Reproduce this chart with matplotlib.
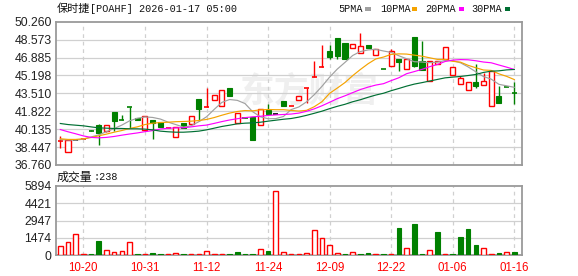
import numpy as np
import matplotlib
matplotlib.use('Agg')
import matplotlib.pyplot as plt
from matplotlib.patches import Rectangle

W, H = 578, 276

# OHLC diario
opens  = [39.02, 38.01, 39.07, 39.19, 40.02, 40.57, 39.95, 41.76, 41.05, 42.24,
          41.20, 40.10, 41.04, 40.79, 40.25, 39.42, 40.73, 40.64, 43.01, 42.22,
          42.85, 42.29, 44.04, 40.70, 41.24, 41.26, 40.54, 41.98, 41.54, 42.79,
          42.34, 42.89, 44.00, 45.03, 45.97, 47.51, 48.73, 48.26, 47.76, 47.29,
          48.04, 47.10, 45.83, 46.04, 46.73, 45.79, 48.82, 46.55, 44.70, 46.28,
          46.72, 45.24, 44.36, 43.80, 44.55, 44.27, 42.32, 43.26, 44.11, 43.58]
highs  = [39.50, 39.10, 39.07, 39.21, 40.02, 40.62, 40.54, 41.76, 41.48, 42.24,
          41.20, 41.39, 41.04, 40.79, 40.27, 40.35, 40.73, 41.39, 43.01, 44.01,
          43.35, 43.85, 44.04, 41.67, 41.24, 41.26, 42.04, 42.51, 41.54, 42.79,
          42.36, 43.26, 44.02, 46.60, 48.07, 48.07, 48.73, 48.26, 48.14, 49.17,
          48.04, 47.73, 45.83, 47.67, 46.73, 46.76, 48.82, 48.44, 46.55, 46.53,
          47.85, 45.96, 45.14, 44.55, 46.28, 45.40, 45.64, 44.20, 44.11, 44.60]
lows   = [38.38, 38.01, 39.07, 39.19, 40.00, 38.64, 39.85, 39.95, 41.03, 40.26,
          41.04, 40.10, 39.23, 40.32, 40.25, 39.42, 40.26, 40.64, 40.89, 42.22,
          42.85, 42.29, 43.23, 40.70, 41.22, 39.10, 40.54, 41.60, 41.54, 42.29,
          42.34, 42.89, 42.60, 45.03, 45.97, 46.73, 46.73, 46.73, 47.76, 47.29,
          47.82, 47.10, 45.81, 46.04, 45.57, 45.79, 45.95, 45.72, 44.70, 46.28,
          46.72, 45.24, 44.36, 43.80, 43.99, 44.27, 42.32, 42.57, 44.09, 42.48]
closes = [39.04, 39.10, 39.07, 39.21, 40.00, 39.79, 40.54, 40.92, 41.03, 42.22,
          41.04, 41.39, 40.67, 40.32, 40.27, 40.35, 40.26, 41.39, 42.04, 42.24,
          43.35, 43.85, 43.23, 41.67, 41.22, 39.10, 42.04, 41.60, 41.54, 42.29,
          42.36, 43.26, 44.02, 45.05, 45.99, 46.98, 47.07, 46.73, 48.14, 48.01,
          47.82, 47.73, 45.81, 47.54, 46.51, 46.76, 46.13, 45.72, 46.55, 46.53,
          47.85, 45.96, 44.99, 44.55, 44.23, 44.65, 45.64, 42.57, 44.09, 43.56]

# medias moviles
ma5  = [39.15, 39.12, 39.10, 39.20, 39.40, 39.60, 39.90, 40.20, 40.52, 40.92,
        41.16, 41.29, 41.24, 41.09, 40.80, 40.57, 40.33, 40.45, 40.84, 41.30,
        42.00, 42.66, 42.93, 42.85, 42.55, 41.78, 41.30, 41.12, 41.13, 41.33,
        41.98, 42.23, 42.71, 43.38, 44.17, 45.04, 45.80, 46.43, 47.08, 47.45,
        47.60, 47.66, 47.50, 47.37, 47.05, 46.77, 46.49, 46.46, 46.40, 46.45,
        46.60, 46.59, 46.39, 46.00, 45.54, 45.09, 44.85, 44.36, 44.22, 44.08]
ma10 = [39.23, 39.17, 39.17, 39.23, 39.35, 39.51, 39.67, 39.85, 40.01, 40.20,
        40.35, 40.57, 40.70, 40.76, 40.79, 40.84, 40.86, 40.89, 40.95, 41.05,
        41.23, 41.45, 41.65, 41.80, 41.89, 41.86, 41.96, 41.99, 41.97, 41.97,
        41.90, 41.84, 41.91, 42.25, 42.72, 43.51, 44.01, 44.53, 45.18, 45.76,
        46.30, 46.75, 46.93, 47.18, 47.23, 47.21, 47.11, 47.01, 46.86, 46.71,
        46.71, 46.53, 46.45, 46.15, 45.92, 45.71, 45.67, 45.35, 45.11, 44.81]
ma20 = [40.10, 39.89, 39.70, 39.50, 39.36, 39.32, 39.36, 39.45, 39.57, 39.68,
        39.78, 39.90, 40.00, 40.15, 40.22, 40.26, 40.27, 40.35, 40.45, 40.52,
        40.68, 40.85, 41.00, 41.12, 41.22, 41.30, 41.35, 41.43, 41.48, 41.52,
        41.56, 41.65, 41.82, 42.05, 42.34, 42.67, 43.01, 43.28, 43.58, 43.87,
        44.10, 44.29, 44.42, 44.71, 44.98, 45.36, 45.56, 45.77, 46.02, 46.23,
        46.51, 46.64, 46.69, 46.67, 46.58, 46.46, 46.39, 46.18, 45.98, 45.76]
ma30 = [40.67, 40.57, 40.51, 40.45, 40.35, 40.26, 40.23, 40.20, 40.20, 40.17,
        40.17, 40.14, 40.07, 39.95, 39.89, 39.85, 39.85, 39.89, 39.95, 40.07,
        40.23, 40.39, 40.51, 40.64, 40.70, 40.73, 40.79, 40.89, 40.98, 41.07,
        41.14, 41.27, 41.44, 41.63, 41.83, 42.07, 42.29, 42.48, 42.72, 42.91,
        43.14, 43.35, 43.52, 43.76, 43.97, 44.19, 44.38, 44.52, 44.67, 44.82,
        44.97, 45.04, 45.10, 45.19, 45.29, 45.48, 45.60, 45.63, 45.72, 45.76]

# volumen y su color (r = sube, g = baja)
vols = [740, 1110, 1794, 70, 80, 1196, 427, 256, 342, 1110,
        75, 60, 171, 90, 70, 171, 80, 85, 70, 342,
        75, 80, 70, 256, 90, 80, 512, 342, 5438, 228,
        70, 75, 171, 2107, 1424, 826, 171, 80, 228, 70,
        171, 75, 85, 70, 2306, 569, 2648, 80, 399, 1964,
        75, 80, 1537, 2221, 854, 569, 70, 171, 228, 238]
vol_dir = list('rrrrggrrrr' 'grggrrgrrr' 'rrggggrgrr'
               'rrrrrrrgrg' 'grgrgrggrg' 'rggggrrgrg')

price_labels = ['36.760', '38.447', '40.135', '41.822', '43.510',
                '45.198', '46.885', '48.573', '50.260']
vol_labels = ['0', '1474', '2947', '4421', '5894']
date_pos = [3, 11, 19, 27, 35, 43, 51, 59]
date_labels = ['10-20', '10-31', '11-12', '11-24', '12-09', '12-22', '01-06', '01-16']

ma_names = ['5PMA', '10PMA', '20PMA', '30PMA']
ma_colors = ['#a0a0a0', '#f5a300', '#ff00ff', '#006f33']

RED = '#ff0000'
GREEN = '#008000'
GRID = '#d0d0d0'
SPINE = '#9a9a9a'
TXT = '#222222'
bw = 0.66

plt.rcParams['font.family'] = ['Liberation Sans', 'DejaVu Sans']

fig = plt.figure(figsize=(W / 100, H / 100), dpi=100)
ax = fig.add_axes([55.7 / W, 1 - 165 / H, 466.6 / W, 143.3 / H])
axv = fig.add_axes([55.7 / W, 1 - 255 / H, 466.6 / W, 69 / H])

x = np.arange(len(closes))

for a in (ax, axv):
    a.set_xlim(-0.6, 60.04)
    for s in a.spines.values():
        s.set_color(SPINE)
        s.set_linewidth(1.3)
    for p in date_pos:
        a.axvline(p, color=GRID, lw=0.9, ls=(0, (3, 3)), zorder=0.5)
    a.tick_params(length=0, labelsize=8.8, labelcolor=TXT, pad=3)

# marca de agua
ax.text(309 / W, 1 - 91 / H, '东方财富', transform=fig.transFigure,
        ha='center', va='center', fontsize=25, fontweight='bold',
        color='#efefef', family=['Noto Sans CJK SC'], zorder=0.2)

# precio
pt = [float(v) for v in price_labels]
ax.set_ylim(pt[0], pt[-1])
ax.set_yticks(pt)
ax.set_yticklabels(price_labels)
ax.set_xticks([])
for v in pt[1:-1]:
    ax.axhline(v, color=GRID, lw=0.9, zorder=0.5)

for i in x:
    o, h, l, c = opens[i], highs[i], lows[i], closes[i]
    if abs(c - o) < 0.05:
        col = RED if c > o else (GREEN if c < o else '#000000')
        ax.vlines(i, l, h, color=col, lw=1.0, zorder=2)
        ax.hlines((o + c) / 2, i - bw / 2, i + bw / 2, color=col, lw=1.2, zorder=3)
    elif c > o:
        ax.vlines(i, l, h, color=RED, lw=1.0, zorder=2)
        ax.add_patch(Rectangle((i - bw / 2, o), bw, c - o, fc='white',
                               ec=RED, lw=1.0, zorder=3))
    else:
        ax.vlines(i, l, h, color=GREEN, lw=1.0, zorder=2)
        ax.add_patch(Rectangle((i - bw / 2, c), bw, o - c, fc=GREEN,
                               ec=GREEN, lw=0.8, zorder=3))

for ma, col in zip([ma5, ma10, ma20, ma30], ma_colors):
    ax.plot(x, ma, color=col, lw=0.85, zorder=4)

# volumen
vt = [float(v) for v in vol_labels]
axv.set_ylim(vt[0], vt[-1])
axv.set_yticks(vt)
axv.set_yticklabels(vol_labels)
for v in vt[1:-1]:
    axv.axhline(v, color=GRID, lw=0.9, zorder=0.5)
for i in x:
    if vol_dir[i] == 'r':
        axv.add_patch(Rectangle((i - 0.3, 0), 0.6, vols[i], fc='white',
                                ec=RED, lw=1.0, zorder=3))
    else:
        axv.add_patch(Rectangle((i - 0.3, 0), 0.6, vols[i], fc=GREEN,
                                ec=GREEN, lw=0.8, zorder=3))
axv.set_xticks(date_pos)
axv.set_xticklabels(date_labels)
axv.tick_params(axis='x', labelcolor=RED, labelsize=8.3, pad=5)

# titulos
def fx(px):
    return px / W

def fy(py):
    return 1 - py / H

cjk = ['Noto Sans CJK SC', 'DejaVu Sans']
fig.text(fx(57), fy(8.5), '保时捷', family=cjk, fontsize=8, va='center', color='#111111')
fig.text(fx(90), fy(8.5), '[POAHF] 2026-01-17 05:00', family=['Liberation Mono'],
         fontsize=7.3, va='center', color='#111111')
fig.text(fx(57), fy(177.5), '成交量', family=cjk, fontsize=8.6, va='center', color='#111111')
fig.text(fx(93), fy(177.5), ':238', family=['Liberation Mono'],
         fontsize=7.3, va='center', color='#111111')

leg_x = [338.7, 380.3, 425.7, 471.3]
mk_x = [365.3, 412.0, 458.7, 504.7]
for name, col, tx, mx in zip(ma_names, ma_colors, leg_x, mk_x):
    fig.text(fx(tx), fy(9), name, family=['Liberation Mono'], fontsize=7.3,
             va='center', color='#111111')
    fig.patches.append(Rectangle((fx(mx), fy(10.5)), 5.3 / W, 3 / H,
                                 transform=fig.transFigure, fc=col, ec='none'))

fig.savefig('out.png', dpi=100)
